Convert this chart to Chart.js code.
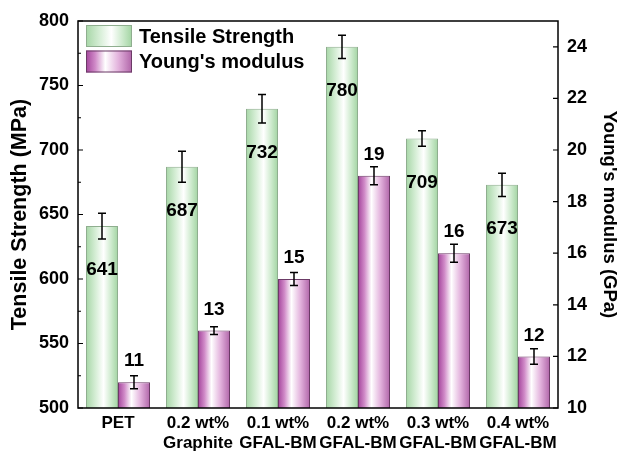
<!DOCTYPE html>
<html>
<head>
<meta charset="utf-8">
<script src="https://cdn.jsdelivr.net/npm/chart.js@4.4.1/dist/chart.umd.min.js"></script>
<style>
  html, body { margin: 0; padding: 0; background: #fff; }
  #wrap { width: 620px; height: 451px; }
</style>
</head>
<body>
<div id="wrap"><canvas id="chart" width="620" height="451"></canvas></div>
<script>
// data
const categories = [["PET"], ["0.2 wt%", "Graphite"], ["0.1 wt%", "GFAL-BM"], ["0.2 wt%", "GFAL-BM"], ["0.3 wt%", "GFAL-BM"], ["0.4 wt%", "GFAL-BM"]];
const tensile = [641, 687, 732, 780, 709, 673];
const tensileErr = [10, 12, 11, 9, 6, 9];
const modulus = [11, 13, 15, 19, 16, 12];
const modulusErr = [0.25, 0.15, 0.25, 0.35, 0.35, 0.3];
const leftTicks = [500, 550, 600, 650, 700, 750, 800];
const rightTicks = [10, 12, 14, 16, 18, 20, 22, 24];

const FONT = "'Liberation Sans', Arial, sans-serif";

function greenGrad(ctx, x0, x1) {
	const g = ctx.createLinearGradient(x0, 0, x1, 0);
	g.addColorStop(0, "#a6d6a6");
	g.addColorStop(0.3, "#d6eed6");
	g.addColorStop(0.55, "#ffffff");
	g.addColorStop(0.8, "#cbe9cb");
	g.addColorStop(1, "#a2d4a2");
	return g;
}
function purpleGrad(ctx, x0, x1) {
	const g = ctx.createLinearGradient(x0, 0, x1, 0);
	g.addColorStop(0, "#a3449b");
	g.addColorStop(0.2, "#d08ac8");
	g.addColorStop(0.42, "#ffffff");
	g.addColorStop(0.7, "#e3b3dd");
	g.addColorStop(1, "#b064a8");
	return g;
}

// gradients per bar, frame, inward ticks, error bars, value labels, legend
const decor = {
	id: "decor",
	beforeDatasetsDraw(chart) {
		const ctx = chart.ctx;
		chart.data.datasets.forEach((ds, i) => {
			chart.getDatasetMeta(i).data.forEach(bar => {
				const x0 = bar.x - bar.width / 2, x1 = bar.x + bar.width / 2;
				const bg = i === 0 ? greenGrad(ctx, x0, x1) : purpleGrad(ctx, x0, x1);
				bar.options = Object.assign({}, bar.options, { backgroundColor: bg });
			});
		});
	},
	afterDatasetsDraw(chart) {
		const ctx = chart.ctx;
		const a = chart.chartArea;
		const yL = chart.scales.y, yR = chart.scales.y1;
		ctx.save();
		// error bars
		ctx.strokeStyle = "#000";
		ctx.lineWidth = 1.5;
		const errs = [[tensile, tensileErr, yL], [modulus, modulusErr, yR]];
		errs.forEach(([vals, err, sc], i) => {
			chart.getDatasetMeta(i).data.forEach((bar, j) => {
				const top = sc.getPixelForValue(vals[j] + err[j]);
				const bot = sc.getPixelForValue(vals[j] - err[j]);
				ctx.beginPath();
				ctx.moveTo(bar.x, top); ctx.lineTo(bar.x, bot);
				ctx.moveTo(bar.x - 4, top); ctx.lineTo(bar.x + 4, top);
				ctx.moveTo(bar.x - 4, bot); ctx.lineTo(bar.x + 4, bot);
				ctx.stroke();
			});
		});
		// value labels
		ctx.fillStyle = "#000";
		ctx.font = "bold 19px " + FONT;
		ctx.textAlign = "center";
		ctx.textBaseline = "middle";
		chart.getDatasetMeta(0).data.forEach((bar, j) => {
			ctx.fillText(String(tensile[j]), bar.x, bar.y + 44);
		});
		chart.getDatasetMeta(1).data.forEach((bar, j) => {
			ctx.fillText(String(modulus[j]), bar.x, bar.y - 21);
		});
		// frame
		ctx.lineWidth = 1.5;
		ctx.strokeRect(a.left, a.top, a.right - a.left, a.bottom - a.top);
		// inward ticks
		ctx.lineWidth = 1.2;
		ctx.beginPath();
		for (let v = 500; v <= 800; v += 25) {
			const y = yL.getPixelForValue(v);
			ctx.moveTo(a.left, y); ctx.lineTo(a.left + (v % 50 === 0 ? 5 : 3), y);
		}
		rightTicks.forEach(v => {
			const y = yR.getPixelForValue(v);
			ctx.moveTo(a.right, y); ctx.lineTo(a.right - 5, y);
		});
		ctx.stroke();
		// legend
		const items = [["Tensile Strength", greenGrad, "#8fae8f"], ["Young's modulus", purpleGrad, "#6b3a66"]];
		items.forEach(([txt, grad, border], k) => {
			const bx = a.left + 8, by = a.top + 4 + k * 25.5, bw = 46, bh = 22;
			ctx.fillStyle = grad(ctx, bx, bx + bw);
			ctx.fillRect(bx, by, bw, bh);
			ctx.strokeStyle = border;
			ctx.lineWidth = 1;
			ctx.strokeRect(bx + 0.5, by + 0.5, bw - 1, bh - 1);
			ctx.fillStyle = "#000";
			ctx.font = "bold 20px " + FONT;
			ctx.textAlign = "left";
			ctx.textBaseline = "middle";
			ctx.fillText(txt, bx + bw + 7, by + bh / 2 + 1);
		});
		ctx.restore();
	}
};

new Chart(document.getElementById("chart"), {
	type: "bar",
	data: {
		labels: categories,
		datasets: [
			{
				label: "Tensile Strength",
				data: tensile,
				yAxisID: "y",
				backgroundColor: "#c8e8c8",
				borderColor: "#8fae8f",
				borderWidth: 1,
				borderSkipped: "bottom",
			},
			{
				label: "Young's modulus",
				data: modulus,
				yAxisID: "y1",
				backgroundColor: "#c880c0",
				borderColor: "#6b3a66",
				borderWidth: 1,
				borderSkipped: "bottom",
			},
		],
	},
	options: {
		responsive: false,
		animation: false,
		devicePixelRatio: 1,
		layout: { padding: { top: 21, left: 0, right: 0, bottom: 0 } },
		datasets: { bar: { categoryPercentage: 0.8, barPercentage: 1.0 } },
		plugins: { legend: { display: false }, tooltip: { enabled: false } },
		scales: {
			x: {
				grid: { display: false, drawTicks: false },
				border: { display: false },
				ticks: {
					color: "#000",
					font: { family: FONT, size: 17, weight: "bold", lineHeight: 1.18 },
					padding: 5,
					autoSkip: false,
					maxRotation: 0,
					minRotation: 0,
				},
				afterFit(s) { s.height = 43; },
			},
			y: {
				position: "left",
				min: 500,
				max: 800,
				afterBuildTicks(s) { s.ticks = leftTicks.map(v => ({ value: v })); },
				grid: { display: false, drawTicks: false },
				border: { display: false },
				ticks: {
					color: "#000",
					font: { family: FONT, size: 18, weight: "bold" },
					padding: 9,
				},
				title: {
					display: true,
					text: "Tensile Strength (MPa)",
					color: "#000",
					font: { family: FONT, size: 21.5, weight: "bold" },
					padding: { top: 7, bottom: 0 },
				},
				afterFit(s) { s.width = 78; },
			},
			y1: {
				position: "right",
				min: 10,
				max: 25,
				afterBuildTicks(s) { s.ticks = rightTicks.map(v => ({ value: v })); },
				grid: { display: false, drawTicks: false },
				border: { display: false },
				ticks: {
					color: "#000",
					font: { family: FONT, size: 18, weight: "bold" },
					padding: 9,
				},
				title: {
					display: true,
					text: "Young's modulus (GPa)",
					color: "#000",
					font: { family: FONT, size: 18.5, weight: "bold" },
					padding: { top: 0, bottom: 2 },
				},
				afterFit(s) { s.width = 62; },
			},
		},
	},
	plugins: [decor],
});
</script>
</body>
</html>
